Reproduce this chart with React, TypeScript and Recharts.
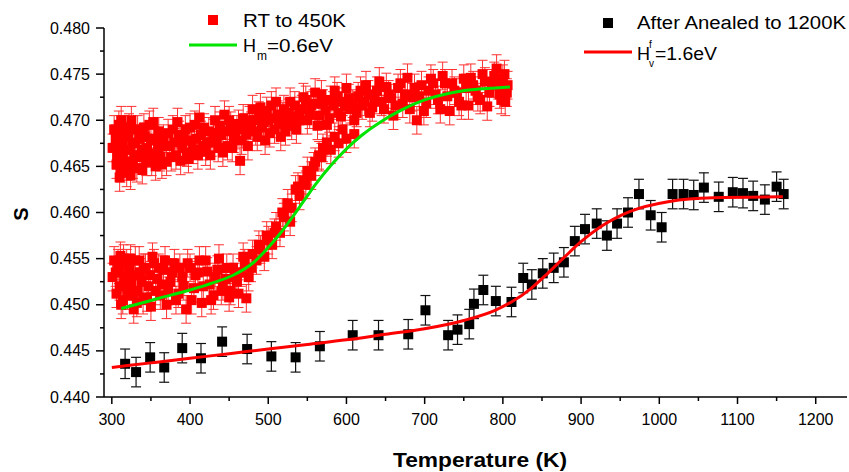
import React from 'react';
import { ComposedChart, Scatter, Line, XAxis, YAxis, ErrorBar } from 'recharts';

// RT to 450K: low branch + rise (heating)
const heatTemps = [
  305, 308, 310, 312, 315, 318, 320, 322, 325, 328, 330, 333, 336, 340, 343, 347, 350, 354, 358, 362,
  366, 370, 375, 380, 385, 390, 395, 400, 405, 410, 415, 420, 425, 430, 435, 440, 445, 450, 455, 460,
  465, 470, 475, 480, 485, 490, 495, 500, 505, 510, 515, 520, 525, 530, 535, 540, 545, 550, 555, 560,
  565, 570, 580, 590, 600, 610,
];
const heatS = [
  0.4535, 0.4545, 0.4520, 0.4500, 0.4550, 0.4530, 0.4510, 0.4540, 0.4525, 0.4495, 0.4548, 0.4515, 0.4535, 0.4505, 0.4540, 0.4520, 0.4498, 0.4545, 0.4528, 0.4510,
  0.4538, 0.4500, 0.4525, 0.4545, 0.4512, 0.4530, 0.4495, 0.4540, 0.4518, 0.4535, 0.4502, 0.4548, 0.4522, 0.4510, 0.4538, 0.4515, 0.4528, 0.4508, 0.4540, 0.4525,
  0.4535, 0.4545, 0.4530, 0.4555, 0.4548, 0.4560, 0.4552, 0.4570, 0.4565, 0.4585, 0.4578, 0.4595, 0.4610, 0.4605, 0.4625, 0.4618, 0.4635, 0.4645, 0.4640, 0.4655,
  0.4662, 0.4670, 0.4668, 0.4675, 0.4680, 0.4685,
];
const heatTemps2 = [
  301, 303, 306, 309, 311, 314, 316, 319, 321, 324, 327, 329, 332, 335, 338, 341, 345, 349, 352, 356,
  360, 364, 368, 372, 377, 382, 387, 392, 397, 402, 407, 412, 417, 422, 427, 432, 437, 442, 447, 452,
  457, 462, 468, 472, 478, 488, 498, 508, 518, 528, 538, 548, 558, 568, 575, 585, 595,
];
const heatS2 = [
  0.4530, 0.4548, 0.4512, 0.4538, 0.4553, 0.4505, 0.4528, 0.4545, 0.4520, 0.4550, 0.4512, 0.4532, 0.4502, 0.4548, 0.4525, 0.4540, 0.4508, 0.4532, 0.4552, 0.4515,
  0.4540, 0.4522, 0.4548, 0.4515, 0.4535, 0.4505, 0.4540, 0.4520, 0.4545, 0.4505, 0.4532, 0.4548, 0.4520, 0.4536, 0.4505, 0.4530, 0.4550, 0.4520, 0.4540, 0.4515,
  0.4530, 0.4512, 0.4552, 0.4507, 0.4540, 0.4565, 0.4575, 0.4578, 0.4600, 0.4590, 0.4628, 0.4630, 0.4650, 0.4660, 0.4676, 0.4682, 0.4690,
];

// RT to 450K: upper band
const coolTemps = [
  305, 307, 309, 311, 313, 315, 317, 319, 321, 323, 325, 327, 330, 333, 336, 339, 342, 345, 348, 351,
  354, 357, 360, 364, 368, 372, 376, 380, 384, 388, 392, 396, 400, 404, 408, 412, 416, 420, 424, 428,
  432, 436, 440, 444, 448, 452, 456, 460, 464, 468, 472, 476, 480, 484, 488, 492, 496, 500, 504, 508,
  512, 516, 520, 524, 528, 532, 536, 540, 545, 550, 555, 560, 565, 570, 575, 580, 585, 590, 595, 600,
  605, 610, 615, 620, 625, 630, 636, 642, 648, 654, 660, 666, 672, 678, 684, 690, 696, 702, 708, 714,
  720, 726, 732, 738, 744, 750, 756, 762, 768, 774, 780, 786, 792, 796, 800, 803, 806,
];
const coolS = [
  0.4680, 0.4662, 0.4695, 0.4648, 0.4672, 0.4690, 0.4655, 0.4643, 0.4683, 0.4668, 0.4700, 0.4652, 0.4675, 0.4690, 0.4660, 0.4646, 0.4682, 0.4670, 0.4695, 0.4655,
  0.4678, 0.4662, 0.4688, 0.4652, 0.4672, 0.4686, 0.4660, 0.4676, 0.4698, 0.4656, 0.4680, 0.4665, 0.4692, 0.4668, 0.4680, 0.4703, 0.4672, 0.4666, 0.4688, 0.4676,
  0.4700, 0.4670, 0.4684, 0.4706, 0.4672, 0.4694, 0.4680, 0.4690, 0.4656, 0.4702, 0.4685, 0.4700, 0.4712, 0.4688, 0.4705, 0.4692, 0.4678, 0.4700, 0.4716, 0.4690,
  0.4706, 0.4682, 0.4712, 0.4698, 0.4720, 0.4704, 0.4690, 0.4710, 0.4725, 0.4700, 0.4716, 0.4730, 0.4705, 0.4718, 0.4695, 0.4722, 0.4732, 0.4708, 0.4720, 0.4735,
  0.4712, 0.4700, 0.4726, 0.4716, 0.4738, 0.4708, 0.4722, 0.4742, 0.4712, 0.4728, 0.4705, 0.4735, 0.4718, 0.4746, 0.4725, 0.4700, 0.4738, 0.4718, 0.4745, 0.4728,
  0.4712, 0.4740, 0.4710, 0.4732, 0.4720, 0.4745, 0.4716, 0.4738, 0.4725, 0.4750, 0.4715, 0.4740, 0.4756, 0.4728, 0.4745, 0.4720, 0.4738,
];
const coolTemps2 = [
  301, 303, 306, 308, 310, 312, 314, 316, 318, 320, 322, 324, 326, 329, 332, 335, 338, 341, 344, 347,
  350, 353, 356, 359, 362, 366, 370, 374, 378, 382, 386, 390, 394, 398, 402, 406, 410, 414, 418, 422,
  426, 430, 434, 438, 442, 446, 450, 454, 458, 462, 466, 470, 474, 478, 482, 486, 490, 494, 498, 502,
  506, 510, 514, 518, 522, 526, 530, 534, 538, 543, 548, 553, 558, 563, 568, 573, 578, 583, 588, 593,
  598, 603, 608, 613, 618, 623, 628, 633, 639, 645, 651, 657, 663, 669, 675, 681, 687, 693, 699, 705,
  711, 717, 723, 729, 735, 741, 747, 753, 759, 765, 771, 777, 783, 789, 794, 798, 802, 805,
];
const coolS2 = [
  0.4670, 0.4690, 0.4652, 0.4678, 0.4638, 0.4700, 0.4660, 0.4682, 0.4668, 0.4650, 0.4692, 0.4640, 0.4676, 0.4662, 0.4648, 0.4680, 0.4668, 0.4692, 0.4655, 0.4664,
  0.4680, 0.4698, 0.4650, 0.4670, 0.4660, 0.4680, 0.4655, 0.4672, 0.4690, 0.4662, 0.4684, 0.4670, 0.4690, 0.4658, 0.4678, 0.4695, 0.4662, 0.4684, 0.4692, 0.4676,
  0.4662, 0.4686, 0.4680, 0.4694, 0.4665, 0.4688, 0.4700, 0.4670, 0.4684, 0.4696, 0.4678, 0.4692, 0.4672, 0.4694, 0.4700, 0.4682, 0.4714, 0.4698, 0.4710, 0.4686,
  0.4702, 0.4720, 0.4696, 0.4704, 0.4688, 0.4708, 0.4694, 0.4716, 0.4700, 0.4712, 0.4722, 0.4706, 0.4718, 0.4694, 0.4728, 0.4710, 0.4702, 0.4716, 0.4726, 0.4704,
  0.4715, 0.4724, 0.4718, 0.4708, 0.4732, 0.4720, 0.4728, 0.4714, 0.4732, 0.4720, 0.4736, 0.4724, 0.4716, 0.4740, 0.4728, 0.4712, 0.4735, 0.4726, 0.4710, 0.4732,
  0.4740, 0.4722, 0.4748, 0.4726, 0.4740, 0.4730, 0.4716, 0.4735, 0.4746, 0.4732, 0.4722, 0.4742, 0.4730, 0.4748, 0.4738, 0.4722, 0.4750, 0.4730,
];
const redErr = 0.0015;

// After annealed to 1200K
const annealTemps = [
  317, 331, 349, 367, 390, 414, 441, 473, 504, 535, 566, 608, 641, 679, 701, 730, 742, 757, 763, 775,
  791, 811, 826, 837, 851, 865, 878, 892, 905, 920, 933, 946, 960, 974, 989, 1003, 1017, 1031, 1044, 1057,
  1076, 1094, 1107, 1120, 1135, 1150, 1159,
];
const annealS = [
  0.4436, 0.4427, 0.4443, 0.4432, 0.4453, 0.4442, 0.4460, 0.4452, 0.4444, 0.4443, 0.4455, 0.4467, 0.4467, 0.4468, 0.4494, 0.4467, 0.4473, 0.4479, 0.4501, 0.4516,
  0.4504, 0.4503, 0.4529, 0.4522, 0.4534, 0.4540, 0.4546, 0.4569, 0.4582, 0.4588, 0.4575, 0.4588, 0.4600, 0.4620, 0.4597, 0.4584, 0.4620, 0.4620, 0.4619, 0.4627,
  0.4617, 0.4622, 0.4621, 0.4618, 0.4614, 0.4628, 0.4620,
];
const blackErr = 0.0016;

// fit curves
const hmTemps = [312, 330, 360, 400, 430, 455, 480, 500, 515, 530, 545, 560, 580, 600, 620, 645, 670, 700, 730, 760, 790, 809];
const hmS = [0.4496, 0.4500, 0.4507, 0.4516, 0.4524, 0.4532, 0.4545, 0.4562, 0.4577, 0.4594, 0.4612, 0.4630, 0.4651, 0.4669, 0.4684, 0.4699, 0.4711, 0.4722, 0.4729, 0.4733, 0.4735, 0.4736];
const hvTemps = [300, 350, 400, 450, 500, 550, 600, 650, 700, 750, 790, 813, 835, 856, 878, 898, 924, 962, 1013, 1069, 1158];
const hvS = [0.4432, 0.4437, 0.4442, 0.4447, 0.4452, 0.4457, 0.4462, 0.4468, 0.4474, 0.4483, 0.4494, 0.4504, 0.4517, 0.4533, 0.4551, 0.4567, 0.4584, 0.4601, 0.4612, 0.4616, 0.4617];

const xTicks = [300, 350, 400, 450, 500, 550, 600, 650, 700, 750, 800, 850, 900, 950, 1000, 1050, 1100, 1150, 1200];
const yTicks = [0.44, 0.4425, 0.445, 0.4475, 0.45, 0.4525, 0.455, 0.4575, 0.46, 0.4625, 0.465, 0.4675, 0.47, 0.4725, 0.475, 0.4775, 0.48];

const toPoints = (ts: number[], ss: number[], err: number) => ts.map((T, i) => ({ T, S: ss[i], err }));
const redData = [
  ...toPoints(heatTemps, heatS, redErr),
  ...toPoints(heatTemps2, heatS2, redErr),
  ...toPoints(coolTemps, coolS, redErr),
  ...toPoints(coolTemps2, coolS2, redErr),
];
const blackData = toPoints(annealTemps, annealS, blackErr);
const hmData = hmTemps.map((T, i) => ({ T, S: hmS[i] }));
const hvData = hvTemps.map((T, i) => ({ T, S: hvS[i] }));

const FONT = '"Liberation Sans", Arial, sans-serif';

const square = (color: string) => (props: any) => (
  <rect x={props.cx - 5} y={props.cy - 5} width={10} height={10} fill={color} />
);

const XTick = (props: any) => {
  const { x, y, payload } = props;
  const v = payload.value;
  const major = v % 100 === 0;
  return (
    <g>
      <line x1={x} x2={x} y1={y} y2={y + (major ? 7 : 4)} stroke="#000" strokeWidth={1.5} />
      {major && (
        <text x={x} y={y + 28} textAnchor="middle" fontSize={16} fontFamily={FONT} fill="#000">
          {v}
        </text>
      )}
    </g>
  );
};

const YTick = (props: any) => {
  const { x, y, payload } = props;
  const v = payload.value;
  const major = Math.round(v * 10000) % 50 === 0;
  return (
    <g>
      <line x1={x - (major ? 8 : 4)} x2={x} y1={y} y2={y} stroke="#000" strokeWidth={1.5} />
      {major && (
        <text x={x - 14} y={y + 5.5} textAnchor="end" fontSize={16} fontFamily={FONT} fill="#000">
          {v.toFixed(3)}
        </text>
      )}
    </g>
  );
};

export default function App() {
  return (
    <div style={{ position: 'absolute', left: 0, top: 0, width: 849, height: 472, background: '#fff', fontFamily: FONT }}>
      <ComposedChart width={849} height={472} margin={{ top: 28, right: 2, left: 0, bottom: 0 }}>
        <XAxis
          dataKey="T"
          type="number"
          domain={[290, 1240]}
          ticks={xTicks}
          tick={<XTick />}
          tickLine={false}
          tickSize={0}
          tickMargin={0}
          height={75}
          axisLine={{ stroke: '#000', strokeWidth: 1.5 }}
          allowDataOverflow
        />
        <YAxis
          dataKey="S"
          type="number"
          domain={[0.44, 0.48]}
          ticks={yTicks}
          tick={<YTick />}
          tickLine={false}
          tickSize={0}
          tickMargin={0}
          width={104}
          axisLine={{ stroke: '#000', strokeWidth: 1.5 }}
          allowDataOverflow
        />
        <Scatter data={redData} dataKey="S" shape={square('#ff0000')} isAnimationActive={false} zIndex={400}>
          <ErrorBar dataKey="err" direction="y" width={5} stroke="#ff3030" strokeWidth={1} />
        </Scatter>
        <Scatter data={blackData} dataKey="S" shape={square('#000000')} isAnimationActive={false} zIndex={410}>
          <ErrorBar dataKey="err" direction="y" width={5} stroke="#111" strokeWidth={1.2} />
        </Scatter>
        <Line data={hmData} dataKey="S" type="monotone" stroke="#00e400" strokeWidth={3} dot={false} isAnimationActive={false} zIndex={900} />
        <Line data={hvData} dataKey="S" type="monotone" stroke="#ff0000" strokeWidth={3} dot={false} isAnimationActive={false} zIndex={900} />
      </ComposedChart>
      <svg width={849} height={472} style={{ position: 'absolute', left: 0, top: 0, pointerEvents: 'none' }} fontFamily={FONT}>
        <rect x={208} y={15} width={10} height={10} fill="#ff0000" />
        <text x={243} y={27} fontSize={18} textLength={103} lengthAdjust="spacingAndGlyphs">RT to 450K</text>
        <line x1={189} x2={237} y1={45} y2={45} stroke="#00e400" strokeWidth={3} />
        <text x={243} y={52} fontSize={18}>H</text>
        <text x={257} y={60} fontSize={12}>m</text>
        <text x={267} y={52} fontSize={18} textLength={66} lengthAdjust="spacingAndGlyphs">=0.6eV</text>

        <rect x={603} y={18} width={10} height={10} fill="#000" />
        <text x={637} y={29} fontSize={18} textLength={209} lengthAdjust="spacingAndGlyphs">After Anealed to 1200K</text>
        <line x1={584} x2={632} y1={52} y2={52} stroke="#ff0000" strokeWidth={3} />
        <text x={637} y={60} fontSize={18}>H</text>
        <text x={649} y={48} fontSize={10}>f</text>
        <text x={649} y={67} fontSize={10}>v</text>
        <text x={655} y={60} fontSize={18} textLength={62} lengthAdjust="spacingAndGlyphs">=1.6eV</text>

        <text transform="translate(28,214) rotate(-90)" textAnchor="middle" fontSize={20} fontWeight="bold">S</text>
        <text x={480} y={467} textAnchor="middle" fontSize={20} fontWeight="bold" textLength={174} lengthAdjust="spacingAndGlyphs">Temperature (K)</text>
      </svg>
    </div>
  );
}
